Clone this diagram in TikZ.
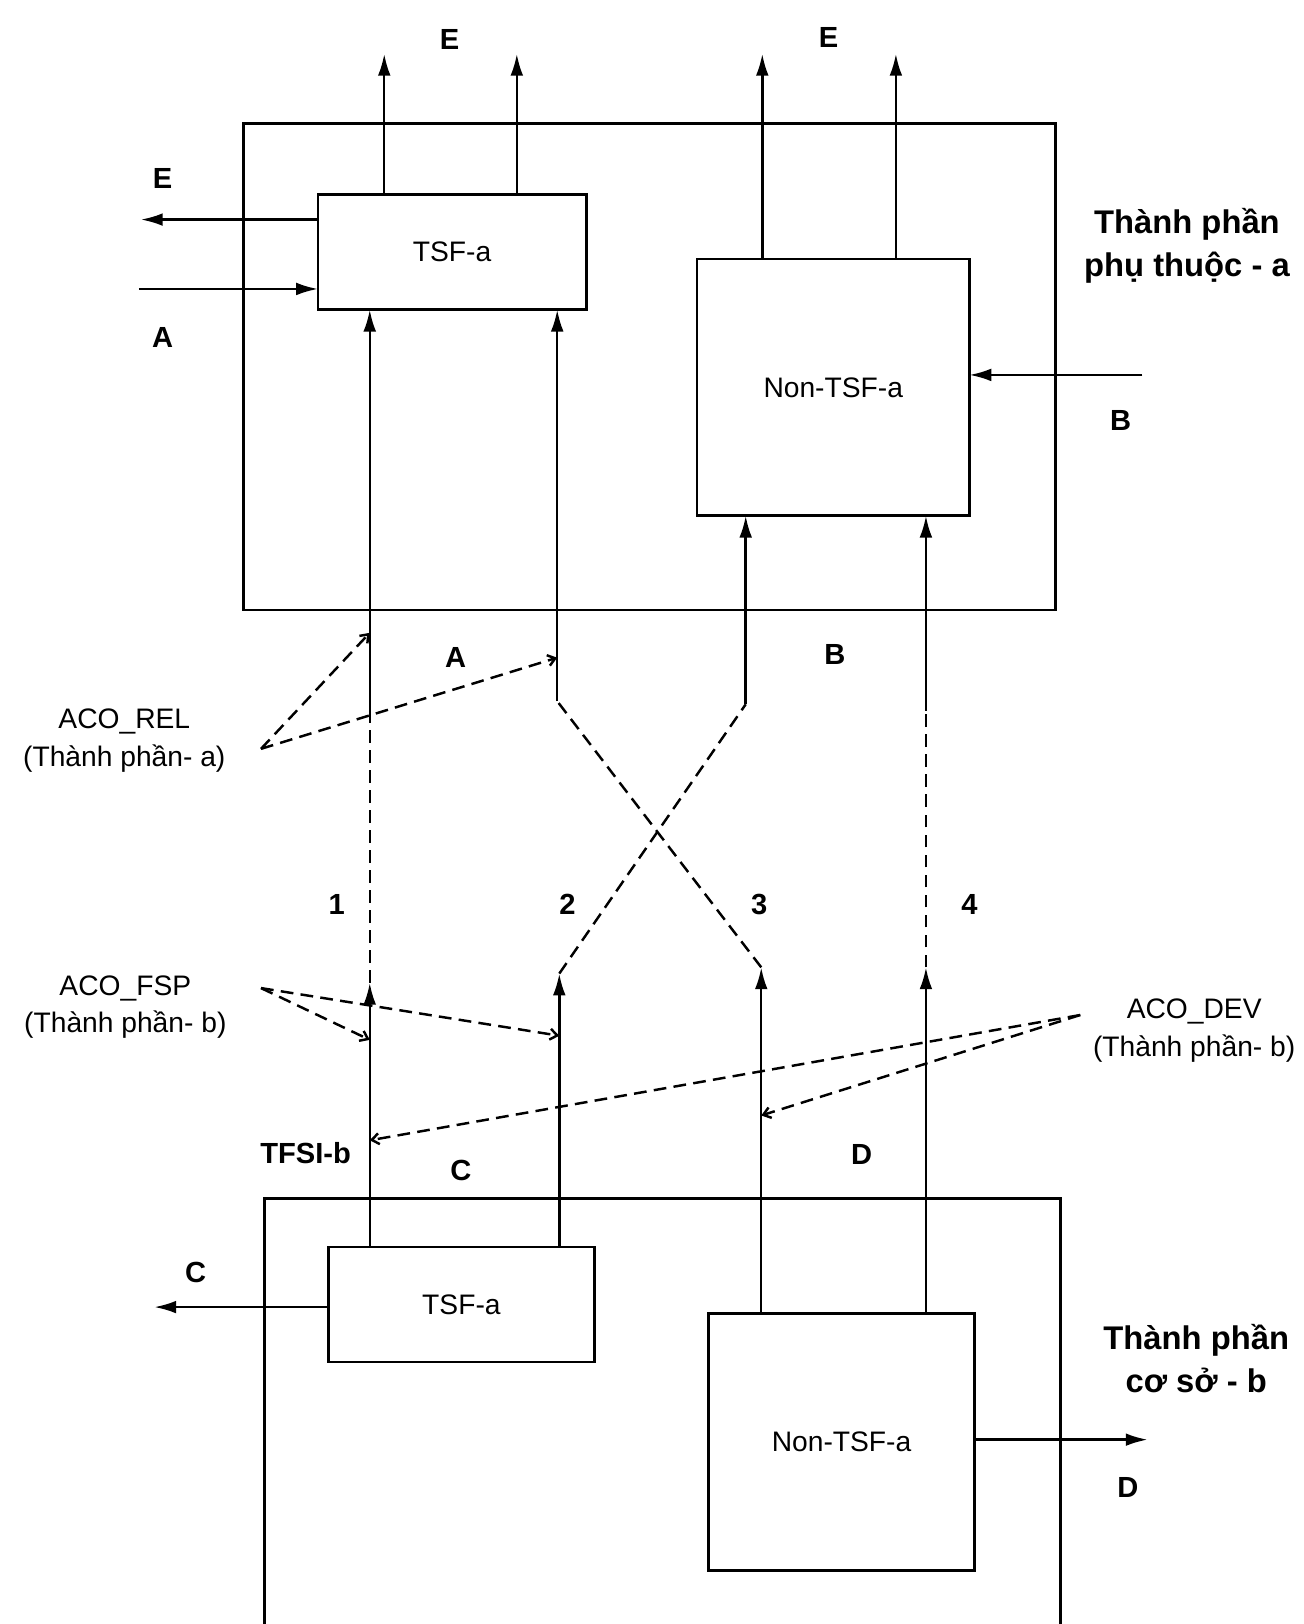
\documentclass[tikz,border=0pt]{standalone}
\usepackage{fontspec}
\setmainfont{Liberation Sans}
\usetikzlibrary{arrows.meta}

\begin{document}
\begin{tikzpicture}[x=0.02cm, y=-0.02cm, line width=1.35pt,
  box/.style={draw, line width=1.5pt, inner sep=0pt, outer sep=0pt, font=\fontsize{15.5}{18}\selectfont},
  frame/.style={line width=1.6pt},
  sig/.style={-{Latex[length=12pt,width=7pt]}},
  dsh/.style={dash pattern=on 7pt off 4pt},
  ptr/.style={dash pattern=on 7pt off 4pt, -{Straight Barb[length=4pt,width=6pt]}},
  lbl/.style={font=\bfseries\fontsize{16}{18}\selectfont},
  note/.style={align=center, font=\fontsize{15.5}{20.4}\selectfont},
  comp/.style={align=center, font=\bfseries\fontsize{18}{23.8}\selectfont}]
\useasboundingbox (0,0) rectangle (1259,1568);

% component a
\draw[frame] (235,119) rectangle (1019,589);
\node[box, minimum width=5.18cm, minimum height=2.22cm] (tsfa) at (436.5,243.5) {TSF-a};
\node[box, minimum width=5.26cm, minimum height=4.96cm] (nontsfa) at (804.5,374) {Non-TSF-a};
\node[comp] (compa) at (1146,237) {Thành phần\\phụ thuộc - a};

% component b
\draw[frame] (255,1568) -- (255,1157) -- (1024,1157) -- (1024,1568);
\node[box, minimum width=5.14cm, minimum height=2.22cm] (tsfb) at (445.5,1259.5) {TSF-a};
\node[box, minimum width=5.14cm, minimum height=4.96cm] (nontsfb) at (812.5,1392) {Non-TSF-a};
\node[comp] (compb) at (1155,1312) {Thành phần\\cơ sở - b};

% outside interfaces
\coordinate (e1) at (371,52);
\coordinate (e2) at (499,52);
\coordinate (e3) at (736,52);
\coordinate (e4) at (865,52);
\coordinate (e5) at (136,212);
\coordinate (a0) at (134,279);
\coordinate (b0) at (1103,362);
\coordinate (c0) at (149,1262);
\coordinate (d0) at (1108,1390);
\draw[sig] (tsfa.north -| e1) -- (e1);
\draw[sig] (tsfa.north -| e2) -- (e2);
\draw[sig] (nontsfa.north -| e3) -- (e3);
\draw[sig] (nontsfa.north -| e4) -- (e4);
\draw[sig] (tsfa.west |- e5) -- (e5);
\draw[sig] (a0) -- (tsfa.west |- a0);
\draw[sig] (b0) -- (nontsfa.east |- b0);
\draw[sig] (tsfb.west |- c0) -- (c0);
\draw[sig] (nontsfb.east |- d0) -- (d0);

\node[lbl] (le1) at (434,38) {E};
\node[lbl] (le2) at (800,36) {E};
\node[lbl] (le3) at (157,172) {E};
\node[lbl] (la1) at (157,326) {A};
\node[lbl] (lb1) at (1082,406) {B};
\node[lbl] (lc1) at (189,1229) {C};
\node[lbl] (ld1) at (1089,1436) {D};

% flows 1-4
\coordinate (k1) at (357,949);
\coordinate (j1) at (357,690);
\coordinate (k2) at (540,940);
\coordinate (j2) at (720,680);
\coordinate (k3) at (735,934);
\coordinate (j3) at (538,677);
\coordinate (k4) at (894,934);
\coordinate (j4) at (894,686);
\draw[sig] (tsfb.north -| k1) -- (k1);
\draw[dsh] (k1) -- (j1);
\draw[sig] (j1) -- (tsfa.south -| j1);
\draw[sig] (tsfb.north -| k2) -- (k2);
\draw[dsh] (k2) -- (j2);
\draw[sig] (j2) -- (nontsfa.south -| j2);
\draw[sig] (nontsfb.north -| k3) -- (k3);
\draw[dsh] (k3) -- (j3);
\draw[sig] (j3) -- (tsfa.south -| j3);
\draw[sig] (nontsfb.north -| k4) -- (k4);
\draw[dsh] (k4) -- (j4);
\draw[sig] (j4) -- (nontsfa.south -| j4);

\node[lbl] (n1) at (325,873) {1};
\node[lbl] (n2) at (548,873) {2};
\node[lbl] (n3) at (733,873) {3};
\node[lbl] (n4) at (936,873) {4};
\node[lbl] (la2) at (440,635) {A};
\node[lbl] (lb2) at (806,632) {B};
\node[lbl] (tfsi) at (295,1113) {TFSI-b};
\node[lbl] (lc2) at (445,1130) {C};
\node[lbl] (ld2) at (832,1115) {D};

% ACO pointers
\node[note] (acorel) at (120,715) {ACO\_REL\\(Thành phần- a)};
\node[note] (acofsp) at (121,972) {ACO\_FSP\\(Thành phần- b)};
\node[note] (acodev) at (1153,995) {ACO\_DEV\\(Thành phần- b)};
\coordinate (rel) at (252,723);
\coordinate (rel1) at (357,611);
\coordinate (rel2) at (538,635);
\coordinate (fsp) at (252,954);
\coordinate (fsp1) at (357,1004);
\coordinate (fsp2) at (540,1000);
\coordinate (dev) at (1043,980);
\coordinate (dev1) at (735,1077);
\coordinate (dev2) at (357,1101);
\draw[ptr] (rel) -- (rel1);
\draw[ptr] (rel) -- (rel2);
\draw[ptr] (fsp) -- (fsp1);
\draw[ptr] (fsp) -- (fsp2);
\draw[ptr] (dev) -- (dev1);
\draw[ptr] (dev) -- (dev2);
\end{tikzpicture}
\end{document}
